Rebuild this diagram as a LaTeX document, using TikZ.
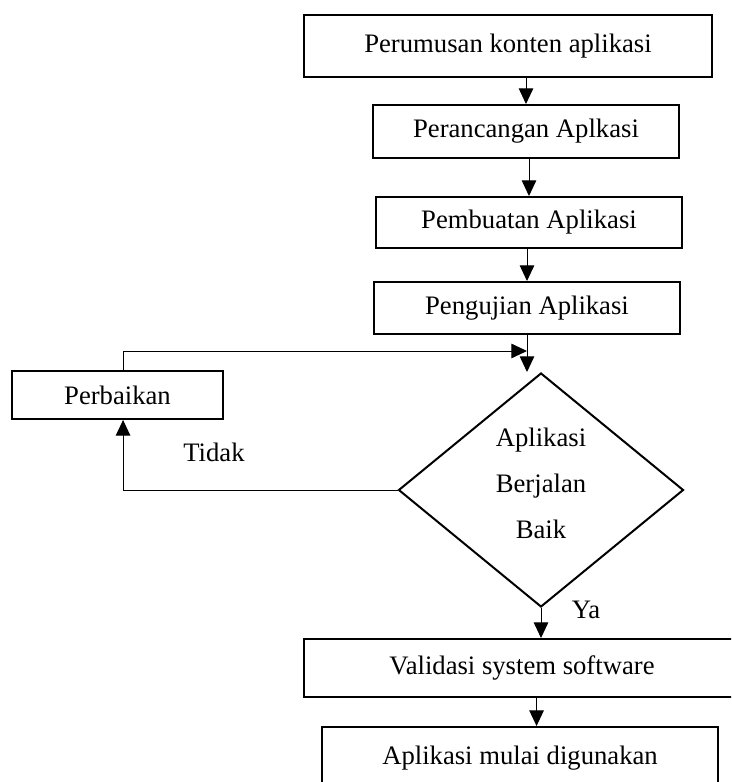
\documentclass[tikz,border=0pt]{standalone}
\usepackage{fontspec}
\setmainfont{Liberation Serif}
\usetikzlibrary{shapes.geometric, arrows.meta, calc}

\begin{document}
\begin{tikzpicture}[
      x=0.45pt, y=-0.45pt,
      box/.style={rectangle, draw, line width=0.9pt, inner sep=0pt, font=\fontsize{12}{14}\selectfont},
      cek/.style={diamond, draw, line width=0.9pt, inner sep=0pt, aspect=1.2, text depth=6.5pt, align=center, font=\fontsize{12}{20.7}\selectfont},
      lbl/.style={font=\fontsize{12}{14}\selectfont},
      >={Triangle[length=7pt,width=6.5pt]},
      line width=0.45pt
    ]
    \clip (0,0) rectangle (731,782);

    % Process boxes
    \node[box, minimum width=183.6pt, minimum height=27.9pt] (rumus) at (508,46) {Perumusan konten aplikasi};
    \node[box, minimum width=137.7pt, minimum height=23.85pt] (rancang) at (526,131.5) {Perancangan Aplkasi};
    \node[box, minimum width=137.7pt, minimum height=22.95pt] (buat) at (529,222.5) {Pembuatan Aplikasi};
    \node[box, minimum width=137.7pt, minimum height=23.4pt] (uji) at (527,308) {Pengujian Aplikasi};

    % Decision and repair
    \node[cek, minimum width=128.25pt, minimum height=105.3pt] (cek) at (541,490) {Aplikasi\\Berjalan\\Baik};
    \node[box, minimum width=94.95pt, minimum height=21.6pt] (baiki) at (117.5,395) {Perbaikan};

    % Final boxes
    \node[box, minimum width=196.2pt, minimum height=26.1pt] (valid) at (522,668) {Validasi system software};
    \node[box, minimum width=178.2pt, minimum height=28.35pt] (pakai) at (520,758.5) {Aplikasi mulai digunakan};

    % Labels
    \node[lbl] (tidak) at (214,452) {Tidak};
    \node[lbl] (ya) at (586,610) {Ya};

    % Main flow
    \draw[->] (rumus.south -| rancang.north) -- (rancang.north);
    \draw[->] (rancang.south -| buat.north) -- (buat.north);
    \draw[->] (buat.south -| uji.north) -- (uji.north);
    \draw[->] (uji.south) -- (uji.south |- cek.north);
    \draw[->] (cek.south) -- (cek.south |- valid.north);
    \draw[->] ([xshift=-2pt]cek.south |- valid.south) -- ([xshift=-2pt]cek.south |- pakai.north);

    % Loop back
    \coordinate (gabung) at ($(uji.south)+(0,16)$);
    \draw[->] (cek.west) -| ([xshift=2.5pt]baiki.south);
    \draw[->] ([xshift=2.5pt]baiki.north) |- (gabung);
  \end{tikzpicture}
\end{document}
